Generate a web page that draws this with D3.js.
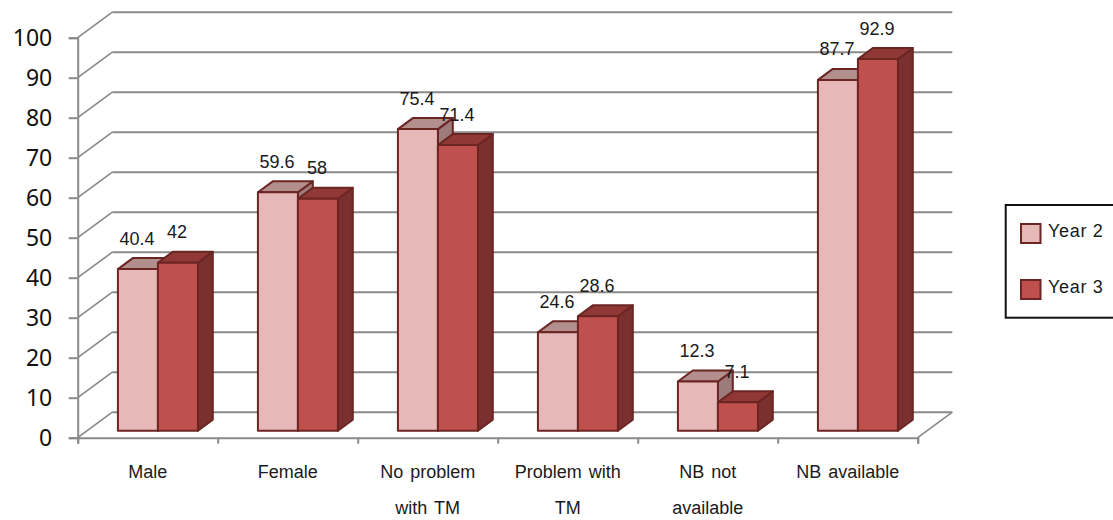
<!DOCTYPE html>
<html>
<head>
<meta charset="utf-8">
<script src="https://cdn.jsdelivr.net/npm/d3@7/dist/d3.min.js"></script>
<style>
html,body{margin:0;padding:0;background:#fff}
svg{display:block}
text{font-family:"Liberation Sans",Arial,sans-serif;fill:#1a1a1a}
</style>
</head>
<body>
<svg id="chart" width="1113" height="520"></svg>
<script>
const categories = [["Male"],["Female"],["No problem","with TM"],["Problem with","TM"],["NB not","available"],["NB available"]];
const seriesNames = ["Year 2","Year 3"];
const year2 = [40.4,59.6,75.4,24.6,12.3,87.7];
const year3 = [42,58,71.4,28.6,7.1,92.9];
const yTicks = [0,10,20,30,40,50,60,70,80,90,100];
const palette = {
  "Year 2":{front:"#e6b9b8",top:"#b28f8d",side:"#9c7b7a"},
  "Year 3":{front:"#c0504d",top:"#8f3836",side:"#79302e"}
};
const edge = "#6b2523", gridColor = "#8a8a8a";

const svg = d3.select("#chart");
const y = d3.scaleLinear().domain([0,100]).range([437.7,37.7]);
const x = d3.scaleLinear().domain([0,categories.length]).range([77.7,917.7]);
const depthX = 34.6, depthY = 25.5;
// oblique projection: depth 0 is the front plane, depth 1 the back wall
const px = (xv,d) => xv + d*depthX;
const py = (v,d) => y(v) - d*depthY;

const wall = svg.append("g").attr("fill","none").attr("stroke",gridColor);
yTicks.forEach(t => {
  wall.append("line").attr("x1",px(x(0),1)).attr("x2",px(x(6),1))
    .attr("y1",py(t,1)).attr("y2",py(t,1)).attr("stroke-width",2);
  wall.append("line").attr("x1",px(x(0),0)).attr("x2",px(x(0),1))
    .attr("y1",py(t,0)).attr("y2",py(t,1)).attr("stroke-width",1.6);
});
wall.append("line").attr("x1",px(x(6),0)).attr("x2",px(x(6),1))
  .attr("y1",py(0,0)).attr("y2",py(0,1)).attr("stroke-width",1.6);

const axisY = svg.append("g").attr("transform",`translate(${x(0)},0)`)
  .call(d3.axisLeft(y).tickValues(yTicks).tickSize(9).tickPadding(16.5));
axisY.selectAll("path,line").attr("stroke",gridColor).attr("stroke-width",2);
axisY.selectAll("text").style("font-family",'"Noto Sans"').style("font-size","23px").style("fill","#111");

const axisX = svg.append("g").attr("transform",`translate(0,${y(0)})`)
  .call(d3.axisBottom(x).tickValues(d3.range(0,7)).tickSize(6).tickFormat(""));
axisX.selectAll("path,line").attr("stroke",gridColor).attr("stroke-width",2);

// bars sit on a plane part way into the floor
const barFront = 0.275, barBack = 0.705;
const inner = d3.scaleBand().domain(seriesNames).range([30.7,110.7]);
const line = d3.line();
const face = (g,pts,fill) => g.append("path").attr("d",line(pts)+"Z").attr("fill",fill)
  .attr("stroke",edge).attr("stroke-width",2).attr("stroke-linejoin","round");

const marks = svg.append("g");
categories.forEach((c,i) => {
  seriesNames.forEach((name,s) => {
    const v = (s===0?year2:year3)[i], col = palette[name];
    const x0 = x(i)+inner(name), x1 = x0+inner.bandwidth();
    const a = px(x0,barFront), b = px(x1,barFront), c2 = px(x1,barBack), a2 = px(x0,barBack);
    const g = marks.append("g");
    face(g,[[b,py(0,barFront)],[c2,py(0,barBack)],[c2,py(v,barBack)],[b,py(v,barFront)]],col.side);
    face(g,[[a,py(v,barFront)],[a2,py(v,barBack)],[c2,py(v,barBack)],[b,py(v,barFront)]],col.top);
    face(g,[[a,py(0,barFront)],[b,py(0,barFront)],[b,py(v,barFront)],[a,py(v,barFront)]],col.front);
  });
});

const labels = svg.append("g").attr("text-anchor","middle").style("font-size","18px");
categories.forEach((c,i) => {
  seriesNames.forEach((name,s) => {
    const v = (s===0?year2:year3)[i];
    const cx = px(x(i)+inner(name)+inner.bandwidth()/2,barFront)-1;
    labels.append("text").attr("x",cx).attr("y",py(v,barFront)-24.5).text(v);
  });
});

const catText = svg.append("g").attr("text-anchor","middle").style("font-size","18px");
categories.forEach((lines,i) => {
  lines.forEach((t,k) => catText.append("text")
    .attr("x",(x(i)+x(i+1))/2).attr("y",478+k*36).style("word-spacing","2px").text(t));
});

const legend = svg.append("g");
legend.append("rect").attr("x",1005.7).attr("y",205).attr("width",130).attr("height",112.7)
  .attr("fill","#fff").attr("stroke","#111").attr("stroke-width",2);
const legendY = d3.scalePoint().domain(seriesNames).range([224,280]);
seriesNames.forEach(name => {
  legend.append("rect").attr("x",1021).attr("y",legendY(name)).attr("width",19.5).attr("height",19)
    .attr("fill",palette[name].front).attr("stroke",edge).attr("stroke-width",2);
  legend.append("text").attr("x",1048).attr("y",legendY(name)+13).style("font-size","18px")
    .style("letter-spacing","0.7px").text(name);
});
</script>
</body>
</html>
